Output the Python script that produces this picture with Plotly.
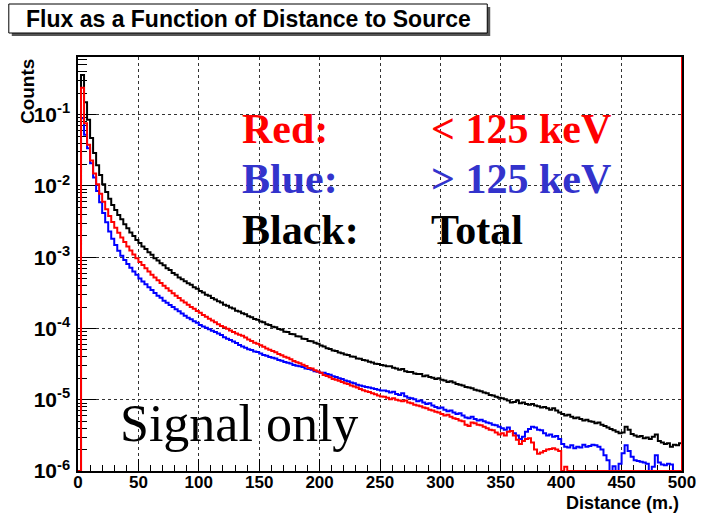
import plotly.graph_objects as go

# ---------------------------------------------------------------- binning
N_BINS = 200
X_MIN, X_MAX = 0.0, 500.0
BIN_WIDTH = (X_MAX - X_MIN) / N_BINS
LOG_Y_MIN, LOG_Y_MAX = -6.0, -0.19

# ---------------------------------------------------------------- histogram contents (counts per 2.5 m bin)
total = [
    0, 0.36, 0.15, 0.085, 0.047, 0.029, 0.0195, 0.0142, 0.0106, 0.0082,
    0.0066, 0.0054, 0.0046, 0.0039, 0.0034, 0.0029, 0.00255, 0.00222, 0.00198, 0.00175,
    0.00158, 0.00141, 0.0013, 0.00117, 0.00108, 0.00097, 0.0009, 0.00082, 0.00077, 0.0007,
    0.00066, 0.0006, 0.00057, 0.00052, 0.00049, 0.00046, 0.00043, 0.00041, 0.00038, 0.00036,
    3.35e-4, 3.2e-4, 2.98e-4, 2.87e-4, 2.68e-4, 2.56e-4, 2.41e-4, 2.32e-4, 2.16e-4, 2.08e-4,
    1.97e-4, 1.9e-4, 1.78e-4, 1.73e-4, 1.63e-4, 1.58e-4, 1.49e-4, 1.44e-4, 1.36e-4, 1.33e-4,
    1.25e-4, 1.22e-4, 1.15e-4, 1.12e-4, 1.06e-4, 1.04e-4, 9.8e-5, 9.6e-5, 9.0e-5, 8.9e-5,
    8.4e-5, 8.3e-5, 7.8e-5, 7.7e-5, 7.2e-5, 7.1e-5, 6.7e-5, 6.6e-5, 6.3e-5, 6.1e-5,
    5.75e-5, 5.6e-5, 5.3e-5, 5.15e-5, 4.9e-5, 4.85e-5, 4.6e-5, 4.5e-5, 4.3e-5, 4.25e-5,
    4.05e-5, 4.0e-5, 3.8e-5, 3.75e-5, 3.6e-5, 3.55e-5, 3.4e-5, 3.32e-5, 3.2e-5, 3.17e-5,
    3.07e-5, 3.02e-5, 2.95e-5, 2.95e-5, 2.82e-5, 2.75e-5, 2.63e-5, 2.69e-5, 2.51e-5, 2.45e-5,
    2.45e-5, 2.34e-5, 2.29e-5, 2.29e-5, 2.14e-5, 2.19e-5, 2.09e-5, 2.04e-5, 1.95e-5, 2.0e-5,
    1.91e-5, 1.86e-5, 1.78e-5, 1.82e-5, 1.74e-5, 1.66e-5, 1.62e-5, 1.58e-5, 1.51e-5, 1.48e-5,
    1.45e-5, 1.38e-5, 1.35e-5, 1.32e-5, 1.26e-5, 1.23e-5, 1.17e-5, 1.15e-5, 1.1e-5, 1.07e-5,
    1.05e-5, 1.02e-5, 9.77e-6, 9.12e-6, 9.33e-6, 9.77e-6, 8.91e-6, 9.12e-6, 8.71e-6, 8.51e-6,
    8.71e-6, 8.32e-6, 8.13e-6, 7.76e-6, 7.94e-6, 7.59e-6, 7.24e-6, 7.59e-6, 7.08e-6, 6.61e-6,
    6.31e-6, 6.03e-6, 6.17e-6, 5.75e-6, 5.5e-6, 5.62e-6, 5.37e-6, 5.13e-6, 5.25e-6, 5.01e-6,
    4.9e-6, 4.68e-6, 4.79e-6, 4.47e-6, 4.27e-6, 4.07e-6, 3.89e-6, 3.72e-6, 3.55e-6, 3.39e-6,
    3.47e-6, 4.17e-6, 3.8e-6, 3.31e-6, 3.16e-6, 3.02e-6, 3.09e-6, 2.88e-6, 2.95e-6, 2.82e-6,
    3.02e-6, 3.24e-6, 2.63e-6, 2.51e-6, 2.4e-6, 2.45e-6, 2.19e-6, 2.34e-6, 2.29e-6, 2.45e-6,
]

below_125kev = [
    0, 0.24, 0.076, 0.038, 0.0227, 0.015, 0.0106, 0.0078, 0.006, 0.0047,
    0.0038, 0.00313, 0.0026, 0.00221, 0.00189, 0.00163, 0.00142, 0.00124, 0.00109, 0.00097,
    0.00086, 0.00078, 0.0007, 0.00063, 0.00057, 0.00052, 4.74e-4, 4.35e-4, 3.97e-4, 3.66e-4,
    3.38e-4, 3.12e-4, 2.88e-4, 2.67e-4, 2.48e-4, 2.32e-4, 2.16e-4, 2.01e-4, 1.89e-4, 1.76e-4,
    1.66e-4, 1.55e-4, 1.46e-4, 1.37e-4, 1.29e-4, 1.22e-4, 1.15e-4, 1.08e-4, 1.04e-4, 9.9e-5,
    9.4e-5, 8.9e-5, 8.5e-5, 8.2e-5, 7.9e-5, 7.45e-5, 7.0e-5, 6.7e-5, 6.3e-5, 6.1e-5,
    5.8e-5, 5.55e-5, 5.25e-5, 5.05e-5, 4.85e-5, 4.65e-5, 4.4e-5, 4.2e-5, 4.0e-5, 3.9e-5,
    3.7e-5, 3.5e-5, 3.35e-5, 3.25e-5, 3.1e-5, 2.98e-5, 2.8e-5, 2.74e-5, 2.6e-5, 2.49e-5,
    2.39e-5, 2.23e-5, 2.15e-5, 2.07e-5, 1.96e-5, 1.91e-5, 1.85e-5, 1.77e-5, 1.71e-5, 1.66e-5,
    1.58e-5, 1.53e-5, 1.48e-5, 1.42e-5, 1.36e-5, 1.32e-5, 1.28e-5, 1.23e-5, 1.19e-5, 1.15e-5,
    1.11e-5, 1.1e-5, 1.07e-5, 1.02e-5, 1.05e-5, 1.0e-5, 9.77e-6, 9.55e-6, 9.77e-6, 9.12e-6,
    8.91e-6, 8.51e-6, 8.32e-6, 8.13e-6, 7.76e-6, 7.59e-6, 7.24e-6, 7.08e-6, 6.76e-6, 6.61e-6,
    6.31e-6, 6.03e-6, 6.17e-6, 5.75e-6, 5.5e-6, 5.37e-6, 5.13e-6, 5.01e-6, 4.47e-6, 4.27e-6,
    4.79e-6, 4.68e-6, 4.47e-6, 4.37e-6, 4.17e-6, 3.98e-6, 3.8e-6, 3.72e-6, 3.47e-6, 3.24e-6,
    3.39e-6, 3.16e-6, 3.55e-6, 3.63e-6, 3.16e-6, 2.75e-6, 2.4e-6, 2.63e-6, 2.82e-6, 2.88e-6,
    2.51e-6, 2.0e-6, 1.74e-6, 1.82e-6, 1.91e-6, 2.0e-6, 2.04e-6, 2.09e-6, 2.0e-6, 1.91e-6,
    0, 1.15e-6, 0, 0, 0, 0, 0, 0, 0, 0,
    0, 0, 0, 0, 0, 0, 0, 0, 0, 0,
    0, 0, 0, 0, 0, 0, 0, 0, 0, 0,
    0, 0, 0, 0, 0, 0, 0, 0, 0, 0,
]

above_125kev = [
    0, 0.089, 0.0525, 0.0339, 0.0209, 0.0132, 0.0085, 0.0059, 0.00417, 0.00309,
    0.00229, 0.00182, 0.00148, 0.00123, 0.00105, 9.16e-4, 8.05e-4, 7.11e-4, 6.31e-4, 5.69e-4,
    5.01e-4, 4.57e-4, 4.17e-4, 3.8e-4, 3.47e-4, 3.16e-4, 2.88e-4, 2.69e-4, 2.45e-4, 2.29e-4,
    2.14e-4, 2.0e-4, 1.86e-4, 1.74e-4, 1.62e-4, 1.51e-4, 1.41e-4, 1.35e-4, 1.26e-4, 1.2e-4,
    1.12e-4, 1.07e-4, 1.02e-4, 9.77e-5, 9.33e-5, 8.91e-5, 8.51e-5, 8.13e-5, 7.53e-5, 7.19e-5,
    6.87e-5, 6.56e-5, 6.27e-5, 5.87e-5, 5.61e-5, 5.35e-5, 5.12e-5, 4.99e-5, 4.77e-5, 4.66e-5,
    4.45e-5, 4.25e-5, 4.16e-5, 3.97e-5, 3.88e-5, 3.79e-5, 3.62e-5, 3.53e-5, 3.38e-5, 3.3e-5,
    3.23e-5, 3.08e-5, 3.01e-5, 2.94e-5, 2.87e-5, 2.74e-5, 2.71e-5, 2.64e-5, 2.52e-5, 2.47e-5,
    2.4e-5, 2.4e-5, 2.29e-5, 2.24e-5, 2.14e-5, 2.09e-5, 2.0e-5, 1.95e-5, 1.86e-5, 1.82e-5,
    1.74e-5, 1.7e-5, 1.62e-5, 1.58e-5, 1.55e-5, 1.51e-5, 1.48e-5, 1.45e-5, 1.41e-5, 1.38e-5,
    1.35e-5, 1.35e-5, 1.32e-5, 1.26e-5, 1.29e-5, 1.2e-5, 1.17e-5, 1.23e-5, 1.12e-5, 1.07e-5,
    1.05e-5, 1.02e-5, 9.55e-6, 9.77e-6, 9.12e-6, 8.71e-6, 8.91e-6, 8.32e-6, 7.94e-6, 7.59e-6,
    7.76e-6, 7.24e-6, 6.92e-6, 7.08e-6, 6.61e-6, 6.31e-6, 6.46e-6, 6.03e-6, 5.62e-6, 5.5e-6,
    5.75e-6, 5.37e-6, 5.13e-6, 5.25e-6, 5.01e-6, 4.79e-6, 4.68e-6, 4.47e-6, 4.37e-6, 4.17e-6,
    3.98e-6, 3.8e-6, 4.07e-6, 3.63e-6, 3.39e-6, 3.16e-6, 2.82e-6, 3.02e-6, 3.55e-6, 3.89e-6,
    4.17e-6, 4.07e-6, 3.8e-6, 3.72e-6, 3.39e-6, 3.16e-6, 3.24e-6, 3.02e-6, 3.09e-6, 2.82e-6,
    2.4e-6, 2.19e-6, 2.14e-6, 2.29e-6, 2.09e-6, 2.19e-6, 2.14e-6, 2.34e-6, 2.19e-6, 2.24e-6,
    2.34e-6, 2.29e-6, 2.19e-6, 2.0e-6, 1.66e-6, 1.41e-6, 0, 1.17e-6, 0, 1.26e-6,
    1.78e-6, 2.29e-6, 1.91e-6, 1.58e-6, 1.41e-6, 1.38e-6, 1.35e-6, 1.32e-6, 1.26e-6, 0,
    1.15e-6, 1.66e-6, 1.32e-6, 1.23e-6, 1.2e-6, 1.26e-6, 1.23e-6, 0, 0, 0,
]

x_tick_values = [0, 50, 100, 150, 200, 250, 300, 350, 400, 450, 500]
y_decades = [-6, -5, -4, -3, -2, -1]

# ---------------------------------------------------------------- page geometry (pixels)
W, H = 708, 513
ML, MR, MT, MB = 78, 19, 57, 42
PW, PH = W - ML - MR, H - MT - MB


def px(xp):
    return (xp - ML) / PW


def py(yp):
    return (H - MB - yp) / PH


SANS = "Liberation Sans, Arial, Helvetica, sans-serif"
SERIF = "Liberation Serif, Times New Roman, serif"

y_floor = 10 ** LOG_Y_MIN
edges = [X_MIN + i * BIN_WIDTH for i in range(N_BINS + 1)]


def outline(values):
    """Histogram outline: empty bins sit on the bottom of the frame."""
    ys = [v if v > 0 else y_floor for v in values]
    xs = [X_MIN] + edges + [X_MAX]
    ys = [y_floor] + ys + [ys[-1], y_floor]
    return xs, ys


fig = go.Figure()

for values, color in ((total, "#000000"), (above_125kev, "#0000ff"), (below_125kev, "#ff0000")):
    hx, hy = outline(values)
    fig.add_trace(go.Scatter(x=hx, y=hy, mode="lines",
                             line=dict(color=color, width=2, shape="hv"),
                             hoverinfo="skip", showlegend=False))

# the low-energy histogram's closing edge runs up the right side of the frame
fig.add_shape(type="line", xref="x", yref="paper", x0=X_MAX, x1=X_MAX, y0=0, y1=1,
              line=dict(color="#ff0000", width=2), layer="above")

minor_y = [m * 10 ** k for k in y_decades for m in range(2, 10)]

fig.update_layout(
    width=W, height=H, autosize=False,
    margin=dict(l=ML, r=MR, t=MT, b=MB, pad=0),
    paper_bgcolor="white", plot_bgcolor="white",
    showlegend=False,
    xaxis=dict(
        range=[X_MIN, X_MAX], tickmode="array", tickvals=x_tick_values,
        ticktext=[str(v) for v in x_tick_values],
        ticks="inside", ticklen=12, tickwidth=1, tickcolor="black",
        showline=True, linecolor="black", linewidth=1.5, mirror=True,
        showgrid=True, gridcolor="#333333", griddash="dot", gridwidth=1,
        zeroline=False, layer="below traces", ticklabelstandoff=-5,
        tickfont=dict(family=SANS, size=17, color="black", weight="bold"),
        minor=dict(ticks="inside", ticklen=6, tickwidth=1, tickcolor="black",
                   tickmode="linear", tick0=0, dtick=10, showgrid=False),
    ),
    yaxis=dict(
        type="log", range=[LOG_Y_MIN, LOG_Y_MAX], tickmode="array",
        tickvals=[10 ** k for k in y_decades],
        ticktext=["10<sup>%d</sup>" % k for k in y_decades],
        ticks="inside", ticklen=18, tickwidth=1, tickcolor="black",
        showline=True, linecolor="black", linewidth=1.5, mirror=True,
        showgrid=True, gridcolor="#333333", griddash="dot", gridwidth=1,
        zeroline=False, layer="below traces", ticklabelstandoff=2,
        tickfont=dict(family=SANS, size=21, color="black", weight="bold"),
        minor=dict(ticks="inside", ticklen=9, tickwidth=1, tickcolor="black",
                   tickmode="array", tickvals=minor_y, showgrid=False),
    ),
)

# title box with drop shadow
fig.add_shape(type="rect", xref="paper", yref="paper",
              x0=px(11), x1=px(495), y0=py(36), y1=py(7),
              fillcolor="#555555", line=dict(width=0), layer="above")
fig.add_shape(type="rect", xref="paper", yref="paper",
              x0=px(8), x1=px(492), y0=py(33), y1=py(4),
              fillcolor="white", line=dict(color="black", width=1), layer="above")


def label(text, xp, yp, size, color="black", family=SANS, weight="bold", xanchor="left", angle=0,
          yanchor="middle"):
    fig.add_annotation(text=text, x=px(xp), y=py(yp), xref="paper", yref="paper",
                       xanchor=xanchor, yanchor=yanchor, showarrow=False, textangle=angle,
                       font=dict(family=family, size=size, color=color, weight=weight))


label("Flux as a Function of Distance to Source", 250, 18.5, 23, xanchor="center")
label("Distance (m.)", 688, 503, 18, xanchor="right")
label("Counts", 27, 57, 19, xanchor="center", angle=-90, yanchor="top")

label("Red:", 242, 129, 42, color="#ff0000", family=SERIF)
label("&lt; 125 keV", 433, 129, 42, color="#ff0000", family=SERIF)
label("Blue:", 242, 179, 42, color="#3333cc", family=SERIF)
label("&gt; 125 keV", 433, 179, 42, color="#3333cc", family=SERIF)
label("Black:", 242, 230, 42, color="#000000", family=SERIF)
label("Total", 433, 230, 42, color="#000000", family=SERIF)
label("Signal only", 118, 423, 52, family=SERIF, weight="normal")

fig.write_html("out.html")
